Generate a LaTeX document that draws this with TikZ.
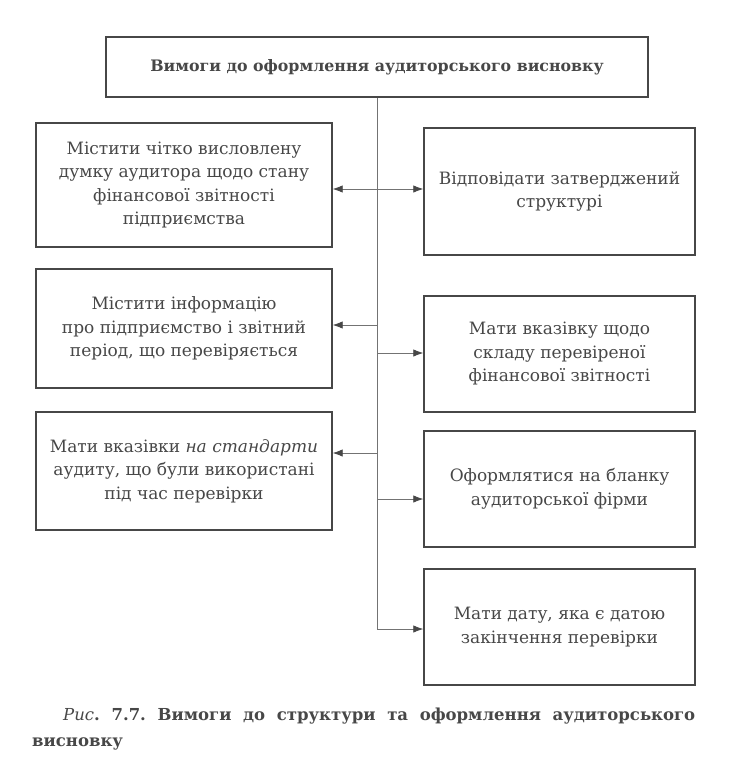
\documentclass[tikz,border=0pt]{standalone}
\usepackage{fontspec}
\setmainfont{DejaVu Serif}
\usetikzlibrary{arrows.meta}
\definecolor{ink}{gray}{0.28}
\definecolor{wire}{gray}{0.45}
\tikzset{
  box/.style={draw=ink, line width=1.4pt, rectangle, align=center, text=ink,
    font=\fontsize{17}{23.5}\selectfont, inner sep=2pt},
  lbox/.style={box, minimum width=296pt},
  rbox/.style={box, minimum width=271pt},
  conn/.style={draw=wire, line width=0.8pt},
  tip/.style={-{Latex[length=10pt,width=7.5pt,color=ink]}},
  captxt/.style={anchor=base west, inner sep=0pt, text=ink, font=\bfseries\fontsize{16.5}{20}\selectfont},
}
\frenchspacing
\begin{document}
\begin{tikzpicture}[x=1pt,y=-1pt]
\useasboundingbox (0,0) rectangle (731,776);
\node[box, minimum width=542pt, minimum height=60pt, font=\bfseries\fontsize{15.8}{19}\selectfont] (top) at (377,67) {Вимоги до оформлення аудиторського висновку};
\node[lbox, minimum height=124pt] (L1) at (184,185) {Містити чітко висловлену\\думку аудитора щодо стану\\фінансової звітності\\підприємства};
\node[lbox, minimum height=119pt] (L2) at (184,328.5) {Містити інформацію\\про підприємство і звітний\\період, що перевіряється};
\node[lbox, minimum height=118pt] (L3) at (184,471) {Мати вказівки \textit{на стандарти}\\аудиту, що були використані\\під час перевірки};
\node[rbox, minimum height=127pt] (R1) at (559.5,191.5) {Відповідати затверджений\\структурі};
\node[rbox, minimum height=116pt] (R2) at (559.5,354) {Мати вказівку щодо\\складу перевіреної\\фінансової звітності};
\node[rbox, minimum height=116pt] (R3) at (559.5,489) {Оформлятися на бланку\\аудиторської фірми};
\node[rbox, minimum height=116pt] (R4) at (559.5,627) {Мати дату, яка є датою\\закінчення перевірки};
\coordinate (s1) at (377,189);
\coordinate (s2) at (377,325);
\coordinate (s3) at (377,353);
\coordinate (s4) at (377,453);
\coordinate (s5) at (377,499);
\coordinate (s6) at (377,629);
\draw[conn] (top.south) -- (s6);
\draw[conn, {Latex[length=10pt,width=7.5pt,color=ink]}-{Latex[length=10pt,width=7.5pt,color=ink]}] (s1 -| L1.east) -- (s1 -| R1.west);
\draw[conn, tip] (s2) -- (s2 -| L2.east);
\draw[conn, tip] (s3) -- (s3 -| R2.west);
\draw[conn, tip] (s4) -- (s4 -| L3.east);
\draw[conn, tip] (s5) -- (s5 -| R3.west);
\draw[conn, tip] (s6) -- (s6 -| R4.west);
\node[captxt] (cap1) at (63,720) {\makebox[632pt][s]{\textmd{\textit{Рис}}. 7.7. Вимоги до структури та оформлення аудиторського}};
\node[captxt] (cap2) at (32,746) {висновку};
\end{tikzpicture}
\end{document}
